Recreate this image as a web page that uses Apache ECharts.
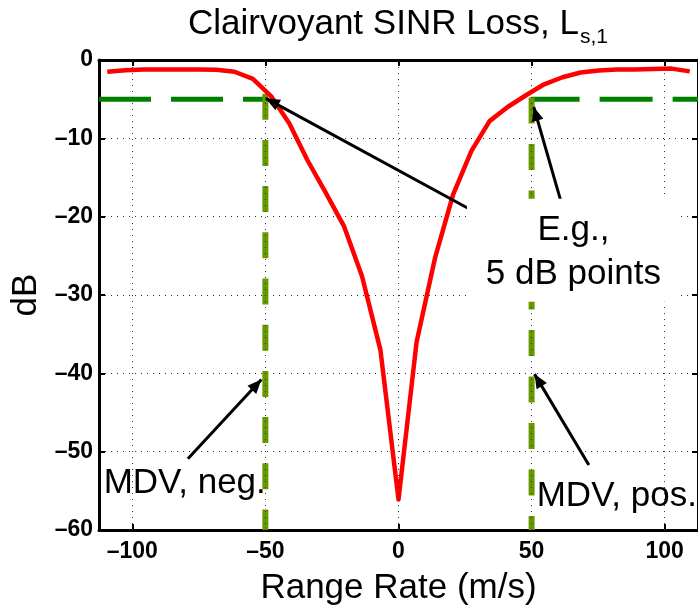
<!DOCTYPE html>
<html>
<head>
<meta charset="utf-8">
<script src="https://cdn.jsdelivr.net/npm/echarts@6/dist/echarts.min.js"></script>
<style>
  html, body { margin: 0; padding: 0; background: #fff; }
  #chart { width: 698px; height: 611px; }
</style>
</head>
<body>
<div id="chart"></div>
<script>
// Clairvoyant SINR loss versus range rate
const rangeRate = [-109.4, -102.6, -95.7, -88.9, -82.1, -75.2, -68.4, -61.6, -54.7, -47.9, -41.0,
  -34.2, -27.4, -20.5, -13.7, -6.8, 0, 6.8, 13.7, 20.5, 27.4, 34.2, 41.0, 47.9, 54.7, 61.6,
  68.4, 75.2, 82.1, 88.9, 95.7, 102.6, 109.4];
const sinrLossDb = [-1.5, -1.3, -1.2, -1.2, -1.2, -1.2, -1.25, -1.5, -2.4, -4.6, -8.1,
  -12.8, -16.9, -21.2, -27.6, -37.0, -56.1, -36.0, -25.3, -17.2, -11.6, -7.8, -6.0, -4.5, -3.1, -2.2,
  -1.6, -1.35, -1.2, -1.2, -1.15, -1.1, -1.45];

const xRange = [-112.5, 112.5];
const yRange = [-60, 0];
const xTickValues = [-100, -50, 0, 50, 100];

// 5 dB threshold and minimum detectable velocities
const lossThresholdDb = -5;
const mdvNeg = -50;
const mdvPos = 50;
const mdvTopNeg = -4.3;
const mdvTopPos = -4.8;

// annotation arrows: [tail, tip] in (m/s, dB)
const arrowTails = [[26.8, -19.05], [60.8, -17.8], [-79.1, -50.9], [71.5, -51.7]];
const arrowTips = [[-49.8, -4.9], [50.8, -6.0], [-51.5, -40.8], [51.1, -40.1]];

// annotation texts and their anchors in (m/s, dB)
const noteTexts = ['E.g.,\n5 dB points', 'MDV, neg.', 'MDV, pos.'];
const noteAnchors = [[65.7, -24.3], [-80.3, -53.8], [82.0, -55.5]];

const FONT = '"Liberation Sans", Arial, Helvetica, sans-serif';
const dash = v => String(v).replace('-', '\u2013');

const chart = echarts.init(document.getElementById('chart'), null, { renderer: 'canvas' });

const arrowHead = 'path://M0,-14L0,-14M0,0L-5.5,14L5.5,14Z';
const dotted = { color: '#333', width: 1, type: [1, 5] };

const option = {
  backgroundColor: '#fff',
  animation: false,
  grid: { left: 99, right: -3, top: 60, bottom: 77, containLabel: false },
  graphic: [
    { type: 'text', x: 579, y: 24.5, z: 10,
      style: { text: 'Clairvoyant SINR Loss, L', fontSize: 35, fontFamily: FONT, fill: '#000',
               align: 'right', verticalAlign: 'middle' } },
    { type: 'text', x: 580, y: 37.6, z: 10,
      style: { text: 's,1', fontSize: 21, fontFamily: FONT, fill: '#000',
               align: 'left', verticalAlign: 'middle' } }
  ],
  xAxis: [
    {
      type: 'value', position: 'bottom', min: xRange[0], max: xRange[1],
      name: 'Range Rate (m/s)', nameLocation: 'middle', nameGap: 41,
      nameTextStyle: { fontSize: 35, fontFamily: FONT, color: '#000' },
      axisLine: { show: true, onZero: false, lineStyle: { color: '#000', width: 3 } },
      axisTick: { show: true, inside: true, length: 6, customValues: xTickValues,
                  lineStyle: { color: '#000', width: 2 } },
      axisLabel: { show: true, customValues: xTickValues, formatter: dash, margin: 10,
                   fontSize: 23, fontWeight: 'bold', fontFamily: FONT, color: '#000' },
      splitLine: { show: false }
    },
    {
      type: 'value', position: 'top', min: xRange[0], max: xRange[1],
      axisLine: { show: true, onZero: false, lineStyle: { color: '#000', width: 3 } },
      axisTick: { show: true, inside: true, length: 6, customValues: xTickValues,
                  lineStyle: { color: '#000', width: 2 } },
      axisLabel: { show: false },
      splitLine: { show: false }
    }
  ],
  yAxis: [
    {
      type: 'value', position: 'left', min: yRange[0], max: yRange[1], interval: 10,
      name: 'dB', nameLocation: 'middle', nameGap: 54, nameRotate: 90,
      nameTextStyle: { fontSize: 35, fontFamily: FONT, color: '#000' },
      axisLine: { show: true, onZero: false, lineStyle: { color: '#000', width: 3 } },
      axisTick: { show: true, inside: true, length: 6, lineStyle: { color: '#000', width: 2 } },
      axisLabel: { formatter: dash, margin: 6, fontSize: 23, fontWeight: 'bold',
                   fontFamily: FONT, color: '#000' },
      splitLine: { show: true, lineStyle: dotted }
    },
    {
      type: 'value', position: 'right', min: yRange[0], max: yRange[1], interval: 10,
      axisLine: { show: true, onZero: false, lineStyle: { color: '#000', width: 3 } },
      axisTick: { show: true, inside: true, length: 6, lineStyle: { color: '#000', width: 2 } },
      axisLabel: { show: false },
      splitLine: { show: false }
    }
  ],
  series: [
    {
      // vertical grid lines at the x ticks
      type: 'line', data: [], z: 1, silent: true,
      markLine: {
        silent: true, symbol: 'none', label: { show: false }, animation: false,
        lineStyle: dotted,
        data: xTickValues.map(v => ({ xAxis: v }))
      }
    },
    {
      name: 'threshold neg', type: 'line', z: 2, showSymbol: false, silent: true,
      data: [[xRange[0], lossThresholdDb], [mdvNeg, lossThresholdDb]],
      lineStyle: { color: '#008000', width: 5, type: [52, 20], cap: 'butt' }
    },
    {
      name: 'threshold pos', type: 'line', z: 2, showSymbol: false, silent: true,
      data: [[mdvPos, lossThresholdDb], [xRange[1] + 5, lossThresholdDb]],
      lineStyle: { color: '#008000', width: 5, type: [48, 20, 53, 20], cap: 'butt' }
    },
    {
      name: 'MDV neg', type: 'line', z: 3, showSymbol: false, silent: true,
      data: [[mdvNeg, mdvTopNeg], [mdvNeg, yRange[0]]],
      lineStyle: { color: '#669900', width: 6, type: [26, 20.2], cap: 'butt' }
    },
    {
      name: 'MDV pos', type: 'line', z: 3, showSymbol: false, silent: true,
      data: [[mdvPos, mdvTopPos], [mdvPos, yRange[0]]],
      lineStyle: { color: '#669900', width: 6, type: [26, 20.5], cap: 'butt' }
    },
    {
      name: 'SINR loss', type: 'line', z: 4, showSymbol: false, silent: true, clip: true,
      data: rangeRate.map((x, i) => [x, sinrLossDb[i]]),
      lineStyle: { color: '#ff0000', width: 4.5, join: 'round' }
    },
    {
      // annotation arrows
      type: 'line', data: [], z: 5, silent: true,
      markLine: {
        silent: true, animation: false, label: { show: false },
        lineStyle: { color: '#000', width: 3, type: 'solid' },
        data: arrowTails.map((t, i) => [
          { coord: t, symbol: 'none' },
          { coord: arrowTips[i], symbol: arrowHead, symbolSize: [12, 28] }
        ])
      }
    },
    {
      // annotation texts
      type: 'scatter', data: [], z: 6, silent: true,
      markPoint: {
        silent: true, animation: false,
        data: noteTexts.map((t, i) => ({
          coord: noteAnchors[i],
          symbol: 'rect',
          symbolSize: i === 0 ? [213, 103] : [1, 1],
          itemStyle: { color: i === 0 ? '#fff' : 'rgba(0,0,0,0)' },
          label: {
            show: true, position: 'inside', formatter: t, offset: [0, 2],
            fontSize: 35, lineHeight: 44, fontFamily: FONT, color: '#000', align: 'center'
          }
        }))
      }
    }
  ]
};

chart.setOption(option);
</script>
</body>
</html>
